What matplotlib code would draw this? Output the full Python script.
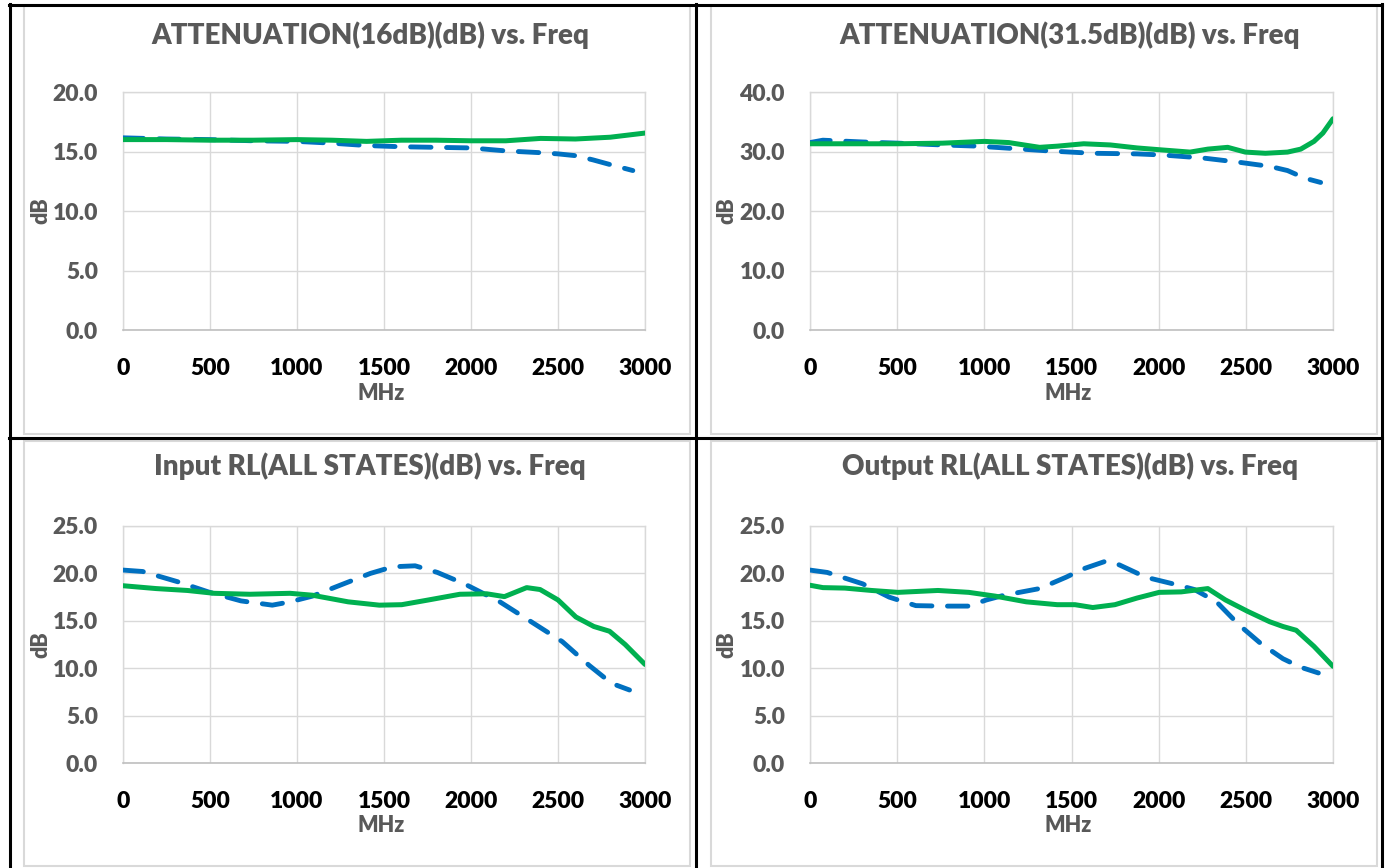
import matplotlib
matplotlib.use("Agg")
import matplotlib.pyplot as plt
from matplotlib.lines import Line2D
from matplotlib.patches import Rectangle

plt.rcParams['font.family'] = ['Lato', 'DejaVu Sans']
plt.rcParams['font.weight'] = 'bold'

W, H = 1387, 868

# ---- data ----
titles = ["ATTENUATION(16dB)(dB) vs. Freq", "ATTENUATION(31.5dB)(dB) vs. Freq",
          "Input RL(ALL STATES)(dB) vs. Freq", "Output RL(ALL STATES)(dB) vs. Freq"]
ymaxes = [20, 40, 25, 25]
ysteps = [5, 10, 5, 5]
xticks = [0, 500, 1000, 1500, 2000, 2500, 3000]

att16_green_f = [0, 250, 500, 750, 1000, 1200, 1400, 1600, 1800, 2000, 2200, 2400, 2600, 2800, 3000]
att16_green = [16.0, 16.0, 15.95, 15.95, 16.0, 15.95, 15.85, 15.95, 15.95, 15.9, 15.9, 16.1, 16.05, 16.2, 16.55]
att16_blue_f = [0, 250, 500, 750, 1000, 1200, 1400, 1600, 1800, 2000, 2200, 2400, 2500, 2600, 2700, 2800, 2930]
att16_blue = [16.15, 16.05, 16.0, 15.9, 15.85, 15.7, 15.5, 15.4, 15.35, 15.3, 15.05, 14.9, 14.8, 14.65, 14.3, 13.9, 13.4]

att31_green_f = [0, 505, 760, 1000, 1140, 1317, 1420, 1570, 1723, 1876, 2003, 2180, 2282, 2396, 2497, 2612, 2739, 2815, 2891, 2942, 3000]
att31_green = [31.3, 31.3, 31.4, 31.7, 31.5, 30.7, 30.9, 31.3, 31.1, 30.6, 30.3, 29.9, 30.4, 30.7, 29.9, 29.7, 29.9, 30.4, 31.7, 33.1, 35.5]
att31_blue_f = [0, 74, 302, 505, 759, 962, 1165, 1368, 1622, 1876, 2028, 2256, 2459, 2637, 2739, 2840, 2929]
att31_blue = [31.5, 31.9, 31.6, 31.4, 31.1, 30.9, 30.5, 30.1, 29.7, 29.6, 29.4, 28.9, 28.2, 27.5, 26.8, 25.5, 24.8]

inrl_green_f = [0, 190, 370, 524, 729, 960, 1088, 1294, 1473, 1602, 1756, 1936, 2090, 2192, 2320, 2397, 2500, 2603, 2706, 2796, 2886, 3000]
inrl_green = [18.7, 18.4, 18.2, 17.9, 17.8, 17.9, 17.7, 17.0, 16.65, 16.7, 17.2, 17.8, 17.85, 17.55, 18.5, 18.3, 17.2, 15.4, 14.4, 13.9, 12.5, 10.4]
inrl_blue_f = [0, 113, 318, 498, 678, 858, 960, 1088, 1268, 1422, 1551, 1679, 1807, 1962, 2166, 2346, 2525, 2679, 2808, 2911]
inrl_blue = [20.35, 20.2, 19.1, 18.0, 17.1, 16.65, 17.0, 17.6, 18.9, 20.0, 20.7, 20.8, 20.1, 18.9, 17.0, 14.9, 12.8, 10.3, 8.4, 7.7]

outrl_green_f = [0, 74, 200, 353, 505, 734, 911, 1063, 1241, 1418, 1520, 1622, 1749, 1876, 2003, 2129, 2282, 2383, 2510, 2637, 2713, 2789, 2891, 3000]
outrl_green = [18.75, 18.5, 18.45, 18.2, 18.0, 18.2, 18.0, 17.6, 17.0, 16.7, 16.7, 16.4, 16.7, 17.4, 18.0, 18.05, 18.4, 17.2, 16.0, 14.9, 14.4, 14.0, 12.3, 10.2]
outrl_blue_f = [0, 99, 302, 454, 607, 759, 911, 1012, 1114, 1317, 1469, 1571, 1698, 1774, 1926, 2104, 2205, 2332, 2459, 2586, 2713, 2815, 2916]
outrl_blue = [20.35, 20.1, 18.9, 17.5, 16.6, 16.55, 16.55, 17.2, 17.7, 18.4, 19.6, 20.5, 21.3, 20.9, 19.6, 18.8, 18.3, 17.0, 14.6, 12.6, 11.0, 10.1, 9.5]

series = [
    (att16_green_f, att16_green, att16_blue_f, att16_blue),
    (att31_green_f, att31_green, att31_blue_f, att31_blue),
    (inrl_green_f, inrl_green, inrl_blue_f, inrl_blue),
    (outrl_green_f, outrl_green, outrl_blue_f, outrl_blue),
]

GREEN = '#00B050'
BLUE = '#0070C0'
GRAY_TXT = '#595959'
GRID = '#D9D9D9'
WEIGHT = 'heavy'


def fx(px):
    return px / W


def fy(py):
    return 1 - py / H


fig = plt.figure(figsize=(W / 100, H / 100), dpi=100)
fig.patch.set_facecolor('white')

# pixel layout of each panel: axes left/right/top/bottom, title x/y, dB label x
layout = [
    (123, 645, 92, 330, 370, 35, 41),
    (810, 1333, 92, 330, 1070, 35, 727),
    (123, 645, 526, 763, 370, 466, 41),
    (810, 1333, 526, 763, 1070, 466, 727),
]

for i, (l, r, t, b, tx, ty, dbx) in enumerate(layout):
    ax = fig.add_axes([fx(l), fy(b), (r - l) / W, (b - t) / H])
    gf, gv, bf, bv = series[i]
    ax.plot(bf, bv, color=BLUE, lw=3.5, dashes=(4.2, 3.2),
            dash_capstyle='round', dash_joinstyle='round', zorder=3)
    ax.plot(gf, gv, color=GREEN, lw=3.6, solid_capstyle='round',
            solid_joinstyle='round', zorder=4)
    ax.set_xlim(0, 3000)
    ax.set_ylim(0, ymaxes[i])
    ax.set_xticks(xticks)
    yt = list(range(0, ymaxes[i] + 1, ysteps[i]))
    ax.set_yticks(yt)
    ax.set_yticklabels([f"{v:.1f}" for v in yt])
    ax.grid(True, color=GRID, lw=1.0)
    ax.set_axisbelow(True)
    for s in ['top', 'right', 'left']:
        ax.spines[s].set_color(GRID)
        ax.spines[s].set_linewidth(1.0)
    ax.spines['bottom'].set_color('#BFBFBF')
    ax.spines['bottom'].set_linewidth(1.2)
    ax.tick_params(axis='x', length=0, pad=20, labelsize=16.5, labelcolor='black')
    ax.tick_params(axis='y', length=0, pad=18, labelsize=16.5, labelcolor=GRAY_TXT)
    for lab in ax.get_xticklabels() + ax.get_yticklabels():
        lab.set_fontweight(WEIGHT)

    fig.text(fx(tx), fy(ty), titles[i], ha='center', va='center',
             fontsize=20, fontweight=WEIGHT, color=GRAY_TXT)
    fig.text(fx((l + r) / 2 - 3), fy(b + 63), "MHz", ha='center', va='center',
             fontsize=15.5, fontweight=WEIGHT, color=GRAY_TXT)
    fig.text(fx(dbx), fy((t + b) / 2), "dB", ha='center', va='center',
             rotation=90, fontsize=15.5, fontweight=WEIGHT, color=GRAY_TXT)

# light gray chart-area frames
for (x0, y0, x1, y1) in [(24, 5, 690, 434), (711, 5, 1377, 434),
                         (24, 441, 690, 866), (711, 441, 1377, 866)]:
    fig.add_artist(Rectangle((fx(x0), fy(y1)), (x1 - x0) / W, (y1 - y0) / H,
                             transform=fig.transFigure, fill=False,
                             edgecolor=GRID, lw=1.5))

# black table borders
borders = [
    ((9, 1382), (4.5, 4.5)),
    ((9, 1382), (437.5, 437.5)),
    ((10, 10), (4, 868)),
    ((695.5, 695.5), (4, 868)),
    ((1382, 1382), (4, 868)),
]
for xs, ys in borders:
    fig.add_artist(Line2D([fx(v) for v in xs], [fy(v) for v in ys],
                          transform=fig.transFigure, color='black', lw=2.2))

fig.savefig('out.png', dpi=100)
